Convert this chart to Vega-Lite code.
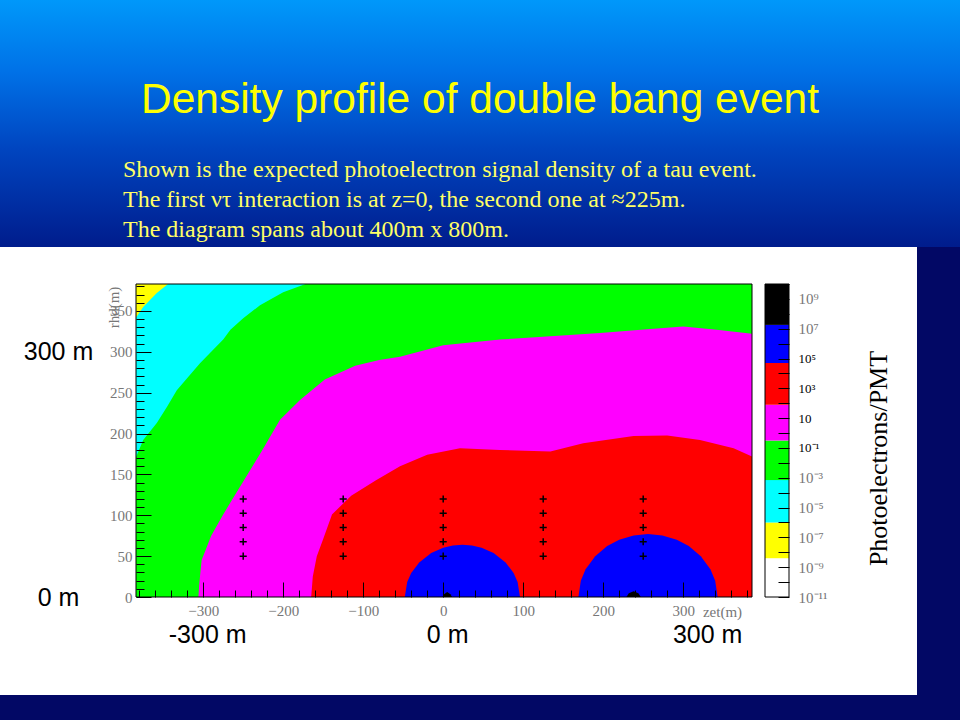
{
  "$schema": "https://vega.github.io/schema/vega-lite/v6.json",
  "padding": {"left": 0, "top": 0, "right": 0, "bottom": 25},
  "autosize": {"type": "pad"},
  "background": "#020865",
  "spacing": 0,
  "bounds": "flush",
  "config": {"view": {"stroke": null}, "axis": {"grid": false}},
  "datasets": {
    "plotframe": [{"band": "green", "x": -384, "x2": 386, "ylow": 0, "yhigh": 383}],
    "cyan": [
      {"band": "cyan", "x": -384, "ylow": 171, "yhigh": 383},
      {"band": "cyan", "x": -375, "ylow": 192, "yhigh": 383},
      {"band": "cyan", "x": -358, "ylow": 213, "yhigh": 383},
      {"band": "cyan", "x": -345, "ylow": 233, "yhigh": 383},
      {"band": "cyan", "x": -333, "ylow": 253, "yhigh": 383},
      {"band": "cyan", "x": -318, "ylow": 270, "yhigh": 383},
      {"band": "cyan", "x": -304, "ylow": 286, "yhigh": 383},
      {"band": "cyan", "x": -290, "ylow": 300, "yhigh": 383},
      {"band": "cyan", "x": -275, "ylow": 315, "yhigh": 383},
      {"band": "cyan", "x": -266, "ylow": 327, "yhigh": 383},
      {"band": "cyan", "x": -250, "ylow": 341, "yhigh": 383},
      {"band": "cyan", "x": -229, "ylow": 357, "yhigh": 383},
      {"band": "cyan", "x": -200, "ylow": 373, "yhigh": 383},
      {"band": "cyan", "x": -172, "ylow": 383, "yhigh": 383}
    ],
    "yellow": [
      {"band": "yellow", "x": -384, "ylow": 342, "yhigh": 383},
      {"band": "yellow", "x": -375, "ylow": 355, "yhigh": 383},
      {"band": "yellow", "x": -358, "ylow": 372, "yhigh": 383},
      {"band": "yellow", "x": -344, "ylow": 383, "yhigh": 383}
    ],
    "magenta": [
      {"band": "magenta", "x": -306, "ylow": 0, "yhigh": 0},
      {"band": "magenta", "x": -305, "ylow": 0, "yhigh": 15},
      {"band": "magenta", "x": -304, "ylow": 0, "yhigh": 25},
      {"band": "magenta", "x": -302, "ylow": 0, "yhigh": 45},
      {"band": "magenta", "x": -290, "ylow": 0, "yhigh": 75},
      {"band": "magenta", "x": -275, "ylow": 0, "yhigh": 101},
      {"band": "magenta", "x": -262, "ylow": 0, "yhigh": 122},
      {"band": "magenta", "x": -249, "ylow": 0, "yhigh": 143},
      {"band": "magenta", "x": -226, "ylow": 0, "yhigh": 180},
      {"band": "magenta", "x": -204, "ylow": 0, "yhigh": 217},
      {"band": "magenta", "x": -179, "ylow": 0, "yhigh": 241},
      {"band": "magenta", "x": -148, "ylow": 0, "yhigh": 266},
      {"band": "magenta", "x": -110, "ylow": 0, "yhigh": 283},
      {"band": "magenta", "x": -80, "ylow": 0, "yhigh": 290},
      {"band": "magenta", "x": -54, "ylow": 0, "yhigh": 294},
      {"band": "magenta", "x": 0, "ylow": 0, "yhigh": 308},
      {"band": "magenta", "x": 71, "ylow": 0, "yhigh": 315},
      {"band": "magenta", "x": 134, "ylow": 0, "yhigh": 319},
      {"band": "magenta", "x": 196, "ylow": 0, "yhigh": 323},
      {"band": "magenta", "x": 259, "ylow": 0, "yhigh": 328},
      {"band": "magenta", "x": 300, "ylow": 0, "yhigh": 331},
      {"band": "magenta", "x": 342, "ylow": 0, "yhigh": 327},
      {"band": "magenta", "x": 386, "ylow": 0, "yhigh": 322}
    ],
    "red": [
      {"band": "red", "x": -165, "ylow": 0, "yhigh": 0},
      {"band": "red", "x": -163, "ylow": 0, "yhigh": 25},
      {"band": "red", "x": -158, "ylow": 0, "yhigh": 50},
      {"band": "red", "x": -150, "ylow": 0, "yhigh": 71},
      {"band": "red", "x": -139, "ylow": 0, "yhigh": 101},
      {"band": "red", "x": -115, "ylow": 0, "yhigh": 124},
      {"band": "red", "x": -84, "ylow": 0, "yhigh": 143},
      {"band": "red", "x": -54, "ylow": 0, "yhigh": 160},
      {"band": "red", "x": -20, "ylow": 0, "yhigh": 174},
      {"band": "red", "x": 21, "ylow": 0, "yhigh": 182},
      {"band": "red", "x": 71, "ylow": 0, "yhigh": 180},
      {"band": "red", "x": 134, "ylow": 0, "yhigh": 178},
      {"band": "red", "x": 175, "ylow": 0, "yhigh": 188},
      {"band": "red", "x": 238, "ylow": 0, "yhigh": 197},
      {"band": "red", "x": 280, "ylow": 0, "yhigh": 197.5},
      {"band": "red", "x": 321, "ylow": 0, "yhigh": 192},
      {"band": "red", "x": 363, "ylow": 0, "yhigh": 182},
      {"band": "red", "x": 386, "ylow": 0, "yhigh": 172}
    ],
    "blue": [
      {"band": "blue", "part": "z0", "x": -48, "ylow": 0, "yhigh": 0},
      {"band": "blue", "part": "z0", "x": -45, "ylow": 0, "yhigh": 18.3},
      {"band": "blue", "part": "z0", "x": -40, "ylow": 0, "yhigh": 29.3},
      {"band": "blue", "part": "z0", "x": -30, "ylow": 0, "yhigh": 42.3},
      {"band": "blue", "part": "z0", "x": -15, "ylow": 0, "yhigh": 53.8},
      {"band": "blue", "part": "z0", "x": 0, "ylow": 0, "yhigh": 60.3},
      {"band": "blue", "part": "z0", "x": 12, "ylow": 0, "yhigh": 63.1},
      {"band": "blue", "part": "z0", "x": 24, "ylow": 0, "yhigh": 64},
      {"band": "blue", "part": "z0", "x": 36, "ylow": 0, "yhigh": 63.1},
      {"band": "blue", "part": "z0", "x": 48, "ylow": 0, "yhigh": 60.3},
      {"band": "blue", "part": "z0", "x": 63, "ylow": 0, "yhigh": 53.8},
      {"band": "blue", "part": "z0", "x": 78, "ylow": 0, "yhigh": 42.3},
      {"band": "blue", "part": "z0", "x": 88, "ylow": 0, "yhigh": 29.3},
      {"band": "blue", "part": "z0", "x": 93, "ylow": 0, "yhigh": 18.3},
      {"band": "blue", "part": "z0", "x": 96, "ylow": 0, "yhigh": 0},
      {"band": "blue", "part": "z225", "x": 169, "ylow": 0, "yhigh": 0},
      {"band": "blue", "part": "z225", "x": 172, "ylow": 0, "yhigh": 20},
      {"band": "blue", "part": "z225", "x": 178, "ylow": 0, "yhigh": 34},
      {"band": "blue", "part": "z225", "x": 190, "ylow": 0, "yhigh": 50},
      {"band": "blue", "part": "z225", "x": 205, "ylow": 0, "yhigh": 62.4},
      {"band": "blue", "part": "z225", "x": 220, "ylow": 0, "yhigh": 70},
      {"band": "blue", "part": "z225", "x": 238, "ylow": 0, "yhigh": 75.3},
      {"band": "blue", "part": "z225", "x": 256, "ylow": 0, "yhigh": 77},
      {"band": "blue", "part": "z225", "x": 274, "ylow": 0, "yhigh": 75.3},
      {"band": "blue", "part": "z225", "x": 292, "ylow": 0, "yhigh": 70},
      {"band": "blue", "part": "z225", "x": 307, "ylow": 0, "yhigh": 62.4},
      {"band": "blue", "part": "z225", "x": 322, "ylow": 0, "yhigh": 50},
      {"band": "blue", "part": "z225", "x": 334, "ylow": 0, "yhigh": 34},
      {"band": "blue", "part": "z225", "x": 340, "ylow": 0, "yhigh": 20},
      {"band": "blue", "part": "z225", "x": 343, "ylow": 0, "yhigh": 0}
    ],
    "black": [
      {"band": "black", "part": "z0", "x": -1, "ylow": 0, "yhigh": 0},
      {"band": "black", "part": "z0", "x": 1, "ylow": 0, "yhigh": 3.5},
      {"band": "black", "part": "z0", "x": 5, "ylow": 0, "yhigh": 6},
      {"band": "black", "part": "z0", "x": 9, "ylow": 0, "yhigh": 3.5},
      {"band": "black", "part": "z0", "x": 11, "ylow": 0, "yhigh": 0},
      {"band": "black", "part": "z225", "x": 229, "ylow": 0, "yhigh": 0},
      {"band": "black", "part": "z225", "x": 232, "ylow": 0, "yhigh": 4.5},
      {"band": "black", "part": "z225", "x": 238, "ylow": 0, "yhigh": 7},
      {"band": "black", "part": "z225", "x": 244, "ylow": 0, "yhigh": 4.5},
      {"band": "black", "part": "z225", "x": 247, "ylow": 0, "yhigh": 0}
    ],
    "pmts": [
      {"x": -250, "y": 50}, {"x": -250, "y": 67.5}, {"x": -250, "y": 85}, {"x": -250, "y": 102.5}, {"x": -250, "y": 120},
      {"x": -125, "y": 50}, {"x": -125, "y": 67.5}, {"x": -125, "y": 85}, {"x": -125, "y": 102.5}, {"x": -125, "y": 120},
      {"x": 0, "y": 50}, {"x": 0, "y": 67.5}, {"x": 0, "y": 85}, {"x": 0, "y": 102.5}, {"x": 0, "y": 120},
      {"x": 125, "y": 50}, {"x": 125, "y": 67.5}, {"x": 125, "y": 85}, {"x": 125, "y": 102.5}, {"x": 125, "y": 120},
      {"x": 250, "y": 50}, {"x": 250, "y": 67.5}, {"x": 250, "y": 85}, {"x": 250, "y": 102.5}, {"x": 250, "y": 120}
    ],
    "colorbar": [
      {"band": "white", "lo": 1e-11, "hi": 4e-9},
      {"band": "yellow", "lo": 4e-9, "hi": 1e-6},
      {"band": "cyan", "lo": 1e-6, "hi": 7e-4},
      {"band": "green", "lo": 7e-4, "hi": 0.316},
      {"band": "magenta", "lo": 0.316, "hi": 79},
      {"band": "red", "lo": 79, "hi": 50000},
      {"band": "blue", "lo": 50000, "hi": 18000000},
      {"band": "black", "lo": 18000000, "hi": 10000000000}
    ]
  },
  "vconcat": [
    {
      "width": 960,
      "height": 247,
      "data": {"values": [{}]},
      "title": {
        "text": "Density profile of double bang event",
        "orient": "bottom",
        "anchor": "middle",
        "frame": "group",
        "offset": -168,
        "font": "Liberation Sans",
        "fontSize": 42.5,
        "fontWeight": "normal",
        "color": "#ffff00"
      },
      "mark": {
        "type": "rect",
        "fill": {
          "gradient": "linear",
          "x1": 0, "y1": 0, "x2": 0, "y2": 1,
          "stops": [
            {"offset": 0, "color": "#0098fa"},
            {"offset": 0.3, "color": "#0070e6"},
            {"offset": 0.6, "color": "#0045c0"},
            {"offset": 1, "color": "#001c8c"}
          ]
        }
      },
      "encoding": {}
    },
    {
      "width": 917,
      "height": 448,
      "view": {"fill": "white", "stroke": null},
      "title": {
        "text": [
          "Shown is the expected photoelectron signal density of a tau event.",
          "The first ντ interaction is at z=0, the second one at ≈225m.",
          "The diagram spans about 400m x 800m."
        ],
        "orient": "top",
        "anchor": "start",
        "frame": "group",
        "dx": 123,
        "offset": 5,
        "font": "Liberation Serif",
        "fontSize": 24,
        "fontWeight": "normal",
        "lineHeight": 30,
        "color": "#ffff66"
      },
      "layer": [
        {
          "layer": [
            {
              "data": {"name": "plotframe"},
              "mark": {"type": "rect"},
              "encoding": {
                "x": {
                  "field": "x", "type": "quantitative",
                  "scale": {"domain": [-384, 386], "range": [136, 752], "nice": false, "zero": false},
                  "axis": {
                    "orient": "bottom", "offset": -98,
                    "values": [-300, -200, -100, 0, 100, 200, 300],
                    "ticks": false, "domain": false, "grid": false,
                    "labelFont": "Liberation Serif", "labelFontSize": 15, "labelColor": "#777777",
                    "labelPadding": 6, "labelFlush": false, "labelOverlap": false,
                    "title": "zet(m)", "titleX": 722, "titleY": 14, "titleAlign": "center", "titleBaseline": "middle",
                    "titleFont": "Liberation Serif", "titleFontSize": 15, "titleFontWeight": "normal", "titleColor": "#777777",
                    "zindex": 1
                  }
                },
                "x2": {"field": "x2"},
                "y": {
                  "field": "ylow", "type": "quantitative",
                  "scale": {"domain": [0, 383], "range": [350, 37], "nice": false, "zero": false},
                  "axis": {
                    "orient": "left", "offset": -136,
                    "values": [0, 50, 100, 150, 200, 250, 300, 350],
                    "ticks": false, "domain": false, "grid": false,
                    "labelFont": "Liberation Serif", "labelFontSize": 15, "labelColor": "#777777",
                    "labelPadding": 4, "labelFlush": false, "labelOverlap": false,
                    "title": "rhd(m)", "titleX": -23, "titleY": 60, "titleAngle": 270, "titleAlign": "center", "titleBaseline": "middle",
                    "titleFont": "Liberation Serif", "titleFontSize": 15, "titleFontWeight": "normal", "titleColor": "#777777",
                    "zindex": 1
                  }
                },
                "y2": {"field": "yhigh"},
                "color": {
                  "field": "band", "type": "nominal",
                  "scale": {
                    "domain": ["white", "yellow", "cyan", "green", "magenta", "red", "blue", "black"],
                    "range": ["#ffffff", "#ffff00", "#00ffff", "#00ff00", "#ff00ff", "#ff0000", "#0000ff", "#000000"]
                  },
                  "legend": null
                }
              }
            },
            {
              "data": {"name": "cyan"},
              "mark": {"type": "area"},
              "encoding": {
                "x": {"field": "x", "type": "quantitative",
                  "axis": {"orient": "bottom", "offset": -98, "values": [-300, -200, -100, 0, 100, 200, 300],
                    "labels": false, "domain": false, "grid": false, "ticks": true, "tickSize": -15, "tickColor": "black", "tickWidth": 1, "title": null, "zindex": 1}},
                "y": {"field": "ylow", "type": "quantitative",
                  "axis": {"orient": "left", "offset": -136, "values": [0, 50, 100, 150, 200, 250, 300, 350],
                    "labels": false, "domain": false, "grid": false, "ticks": true, "tickSize": -15, "tickColor": "black", "tickWidth": 1, "title": null, "zindex": 1}},
                "y2": {"field": "yhigh"},
                "color": {"field": "band", "type": "nominal", "legend": null}
              }
            },
            {
              "data": {"name": "yellow"},
              "mark": {"type": "area"},
              "encoding": {
                "x": {"field": "x", "type": "quantitative",
                  "axis": {"orient": "bottom", "offset": -98,
                    "values": [-380, -360, -340, -320, -280, -260, -240, -220, -180, -160, -140, -120, -80, -60, -40, -20, 20, 40, 60, 80, 120, 140, 160, 180, 220, 240, 260, 280, 320, 340, 360, 380],
                    "labels": false, "domain": false, "grid": false, "ticks": true, "tickSize": -7, "tickColor": "black", "tickWidth": 1, "title": null, "zindex": 1}},
                "y": {"field": "ylow", "type": "quantitative",
                  "axis": {"orient": "left", "offset": -136,
                    "values": [10, 20, 30, 40, 60, 70, 80, 90, 110, 120, 130, 140, 160, 170, 180, 190, 210, 220, 230, 240, 260, 270, 280, 290, 310, 320, 330, 340, 360, 370, 380],
                    "labels": false, "domain": false, "grid": false, "ticks": true, "tickSize": -8, "tickColor": "black", "tickWidth": 1, "title": null, "zindex": 1}},
                "y2": {"field": "yhigh"},
                "color": {"field": "band", "type": "nominal", "legend": null}
              }
            },
            {
              "data": {"name": "magenta"},
              "mark": {"type": "area"},
              "encoding": {
                "x": {"field": "x", "type": "quantitative",
                  "axis": {"orient": "bottom", "offset": -98, "values": [-300, 0, 300],
                    "labelExpr": "datum.value + ' m'",
                    "ticks": false, "domain": false, "grid": false,
                    "labelFont": "Liberation Sans", "labelFontSize": 25, "labelColor": "black",
                    "labelPadding": 25, "labelFlush": false, "labelOverlap": false,
                    "labelOffset": {"condition": {"test": "datum.value > 0", "value": 24}, "value": 4},
                    "title": null, "zindex": 1}},
                "y": {"field": "ylow", "type": "quantitative",
                  "axis": {"orient": "left", "offset": -136, "values": [0, 300],
                    "labelExpr": "datum.value + ' m'",
                    "ticks": false, "domain": false, "grid": false,
                    "labelFont": "Liberation Sans", "labelFontSize": 25, "labelColor": "black",
                    "labelAlign": "center", "labelBaseline": "middle",
                    "labelPadding": 78, "labelFlush": false, "labelOverlap": false,
                    "title": null, "zindex": 1}},
                "y2": {"field": "yhigh"},
                "color": {"field": "band", "type": "nominal", "legend": null}
              }
            },
            {
              "data": {"name": "red"},
              "mark": {"type": "area"},
              "encoding": {
                "x": {"field": "x", "type": "quantitative", "axis": null},
                "y": {"field": "ylow", "type": "quantitative", "axis": null},
                "y2": {"field": "yhigh"},
                "color": {"field": "band", "type": "nominal", "legend": null}
              }
            },
            {
              "data": {"name": "blue"},
              "mark": {"type": "area"},
              "encoding": {
                "x": {"field": "x", "type": "quantitative", "axis": null},
                "y": {"field": "ylow", "type": "quantitative", "axis": null},
                "y2": {"field": "yhigh"},
                "detail": {"field": "part"},
                "color": {"field": "band", "type": "nominal", "legend": null}
              }
            },
            {
              "data": {"name": "black"},
              "mark": {"type": "area"},
              "encoding": {
                "x": {"field": "x", "type": "quantitative", "axis": null},
                "y": {"field": "ylow", "type": "quantitative", "axis": null},
                "y2": {"field": "yhigh"},
                "detail": {"field": "part"},
                "color": {"field": "band", "type": "nominal", "legend": null}
              }
            },
            {
              "data": {"name": "pmts"},
              "mark": {"type": "point", "shape": "M-1,0L1,0M0,-1L0,1", "filled": false, "stroke": "black", "strokeWidth": 1.5, "size": 50, "opacity": 1},
              "encoding": {
                "x": {"field": "x", "type": "quantitative", "axis": null},
                "y": {"field": "y", "type": "quantitative", "axis": null}
              }
            },
            {
              "data": {"name": "plotframe"},
              "mark": {"type": "rect", "filled": false, "stroke": "black", "strokeWidth": 1},
              "encoding": {
                "x": {"field": "x", "type": "quantitative", "axis": null},
                "x2": {"field": "x2"},
                "y": {"field": "ylow", "type": "quantitative", "axis": null},
                "y2": {"field": "yhigh"}
              }
            }
          ],
          "resolve": {"axis": {"x": "independent", "y": "independent"}}
        },
        {
          "layer": [
            {
              "data": {"name": "colorbar"},
              "mark": {"type": "rect"},
              "encoding": {
                "x": {"datum": 0, "type": "quantitative", "scale": {"domain": [0, 1], "range": [765, 789], "nice": false, "zero": false}, "axis": null},
                "x2": {"datum": 1},
                "y": {
                  "field": "lo", "type": "quantitative",
                  "scale": {"type": "log", "domain": [1e-11, 10000000000], "range": [350, 37], "nice": false},
                  "axis": {
                    "orient": "right", "offset": -128,
                    "values": [1000000000, 10000000, 100000, 1000, 10, 0.1, 0.001, 0.00001, 1e-7, 1e-9, 1e-11],
                    "labelExpr": "datum.value >= 1e8 ? '10⁹' : datum.value >= 1e6 ? '10⁷' : datum.value >= 1e4 ? '10⁵' : datum.value >= 100 ? '10³' : datum.value >= 1 ? '10' : datum.value >= 0.01 ? '10⁻¹' : datum.value >= 1e-4 ? '10⁻³' : datum.value >= 1e-6 ? '10⁻⁵' : datum.value >= 1e-8 ? '10⁻⁷' : datum.value >= 1e-10 ? '10⁻⁹' : '10⁻¹¹'",
                    "ticks": false, "domain": false, "grid": false,
                    "labelFont": "Liberation Serif",
                    "labelFontSize": {"condition": {"test": "datum.value > 0.05 && datum.value < 200000", "value": 13}, "value": 15},
                    "labelColor": {"condition": {"test": "datum.value > 0.05 && datum.value < 200000", "value": "black"}, "value": "#777777"},
                    "labelPadding": 9, "labelFlush": false, "labelOverlap": false,
                    "title": "Photoelectrons/PMT", "titleFont": "Liberation Serif", "titleFontSize": 26, "titleFontWeight": "normal", "titleColor": "black",
                    "titleAngle": 270, "titleX": 89, "titleY": 211, "titleAlign": "center", "titleBaseline": "middle",
                    "zindex": 1
                  }
                },
                "y2": {"field": "hi"},
                "color": {"field": "band", "type": "nominal", "legend": null}
              }
            },
            {
              "data": {"values": [{}]},
              "mark": {"type": "rect", "filled": false, "stroke": "black", "strokeWidth": 1},
              "encoding": {
                "x": {"datum": 0, "type": "quantitative", "axis": null},
                "x2": {"datum": 1},
                "y": {
                  "datum": 1e-11, "type": "quantitative",
                  "axis": {
                    "orient": "right", "offset": -128,
                    "values": [1e-11, 1e-10, 1e-9, 1e-8, 1e-7, 0.000001, 0.00001, 0.0001, 0.001, 0.01, 0.1, 1, 10, 100, 1000, 10000, 100000, 1000000, 10000000, 100000000, 1000000000, 10000000000],
                    "labels": false, "domain": false, "grid": false, "ticks": true, "tickSize": -11, "tickColor": "black", "tickWidth": 1,
                    "title": null, "zindex": 1
                  }
                },
                "y2": {"datum": 10000000000}
              }
            }
          ],
          "resolve": {"axis": {"y": "independent"}}
        }
      ],
      "resolve": {
        "scale": {"x": "independent", "y": "independent"},
        "axis": {"x": "independent", "y": "independent"}
      }
    }
  ]
}
